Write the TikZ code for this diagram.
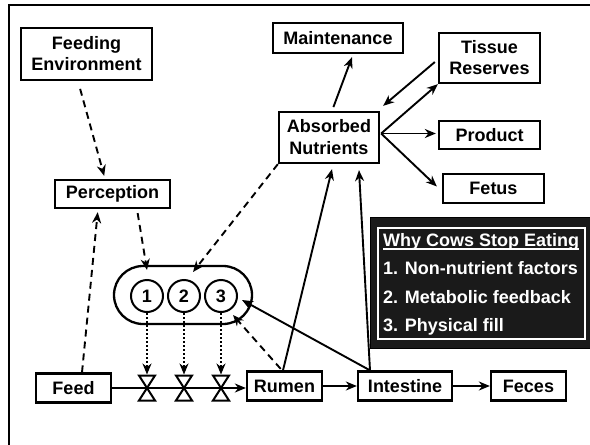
\documentclass[tikz,border=0pt]{standalone}
\usepackage{fontspec}
\setmainfont{Liberation Sans}
\usetikzlibrary{arrows.meta,calc}
\definecolor{legbg}{RGB}{26,26,26}
\begin{document}
\begin{tikzpicture}[x=1pt,y=-1pt,
  font=\fontsize{18}{21}\selectfont\bfseries,
  box/.style={draw, line width=2.3pt, align=center, inner sep=0pt},
  arr/.style={line width=1.9pt, -{Stealth[length=11pt,width=9pt,inset=3.5pt]}},
  dasharr/.style={arr, dash pattern=on 7pt off 5pt},
  dotarr/.style={arr, dash pattern=on 2pt off 2pt},
  numc/.style={draw, circle, line width=2pt, minimum size=32pt, inner sep=0pt},
  valve/.style={line width=2pt, line join=miter},
  legtext/.style={anchor=base west, text=white, inner sep=0pt}]
\useasboundingbox (0,0) rectangle (590,445);
\clip (0,0) rectangle (590,445);
% outer frame
\draw[line width=2.2pt] (9,5) rectangle (620,470);

% nodes
\node[box, minimum width=131pt, minimum height=52pt] (fenv) at (86.5,54) {Feeding\\Environment};
\node[box, minimum width=115pt, minimum height=28pt] (perc) at (112.5,194) {Perception};
\node[box, minimum width=130pt, minimum height=30pt] (maint) at (338,38) {Maintenance};
\node[box, minimum width=101pt, minimum height=50pt] (tissue) at (489.5,58) {Tissue\\Reserves};
\node[box, minimum width=100pt, minimum height=51pt, font=\fontsize{18}{22}\selectfont\bfseries] (absn) at (329,137.5) {Absorbed\\Nutrients};
\node[box, minimum width=101pt, minimum height=28pt] (product) at (489.5,135) {Product};
\node[box, minimum width=101pt, minimum height=29pt] (fetus) at (493.5,188.5) {Fetus};
\node[box, minimum width=75pt, minimum height=29pt] (feed) at (73.5,388) {Feed};
\node[box, minimum width=75pt, minimum height=29pt] (rumen) at (284.5,386) {Rumen};
\node[box, minimum width=94pt, minimum height=29pt] (intest) at (405,386) {Intestine};
\node[box, minimum width=75pt, minimum height=29pt] (feces) at (528.5,386) {Feces};

% stadium with circles
\node[draw, line width=2.3pt, rounded corners=29pt, minimum width=138pt, minimum height=58pt, inner sep=0pt] (stad) at (183,295) {};
\node[numc] (c1) at (147,296) {1};
\node[numc] (c2) at (184,296) {2};
\node[numc] (c3) at (221,296) {3};

% legend
\node[fill=legbg, draw=black, line width=1pt, minimum width=224pt, minimum height=131pt, anchor=north west, inner sep=0pt] (legend) at (370,217) {};
\node[draw=white, line width=1.5pt, minimum width=207pt, minimum height=111pt, anchor=north west, inner sep=0pt] (legin) at (377,227) {};
\node[legtext] (t0) at (383,246) {Why Cows Stop Eating};
\draw[white, line width=1.5pt] ($(t0.base west)+(0,3)$) -- ($(t0.base east)+(0,3)$);
\node[legtext] (t1) at (383,274) {1. Non-nutrient factors};
\node[legtext] (t2) at (383,303) {2. Metabolic feedback};
\node[legtext] (t3) at (383,331) {3. Physical fill};

% valves and flow line
\coordinate (v1) at (147,388);
\coordinate (v2) at (184,388);
\coordinate (v3) at (221,388);
\draw[arr] (feed.east) -- (feed.east -| rumen.west);
\foreach \i in {1,2,3}{
  \draw[valve] ($(v\i)+(-8,-12.5)$) -- ++(16,0) -- ++(-16,25) -- ++(16,0) -- cycle;
  \draw[dotarr] (c\i.south) -- ($(v\i)+(0,-13.5)$);
}
\draw[arr] (rumen.east) -- (intest.west);
\draw[arr] (intest.east) -- (feces.west);

% dashed connectors
\draw[dasharr, shorten <=8pt, shorten >=3pt] ([xshift=-8.5pt]fenv.south) -- ([xshift=-7.5pt]perc.north);
\draw[dasharr, shorten >=3pt] ([xshift=8.5pt]feed.north) -- ([xshift=-14.5pt]perc.south);
\draw[dasharr, shorten <=4pt] ([xshift=24.5pt]perc.south) -- ([yshift=9pt]c1.north);
\draw[dasharr] (absn.south west) -- ($(c2)+(9,-24)$);
\draw[dasharr, shorten <=2pt] ([xshift=-2.5pt]rumen.north) -- ($(c3)+(12,19)$);

% solid connectors
\draw[arr, shorten <=1pt] ([xshift=-35pt]intest.north) -- ($(c3)+(21,4)$);
\draw[arr] ([xshift=-1.5pt]rumen.north) -- ([xshift=3pt,yshift=-5pt]absn.south);
\draw[arr] ([xshift=-35pt]intest.north) -- ([xshift=30pt,yshift=-6pt]absn.south);
\draw[arr, shorten <=4pt] ([xshift=3pt]absn.north) -- ([xshift=14pt,yshift=-3pt]maint.south);
\draw[arr] ([xshift=-3pt,yshift=-4pt]tissue.west) -- ([xshift=3pt,yshift=5pt]absn.north east);
\coordinate (aout) at ([xshift=1pt,yshift=4pt]absn.east);
\draw[arr] (aout) -- (tissue.south west);
\draw[arr, shorten >=2pt] (aout) -- (aout -| product.west);
\draw[arr] (aout) -- ([xshift=-5pt,yshift=2pt]fetus.west);
\end{tikzpicture}
\end{document}
